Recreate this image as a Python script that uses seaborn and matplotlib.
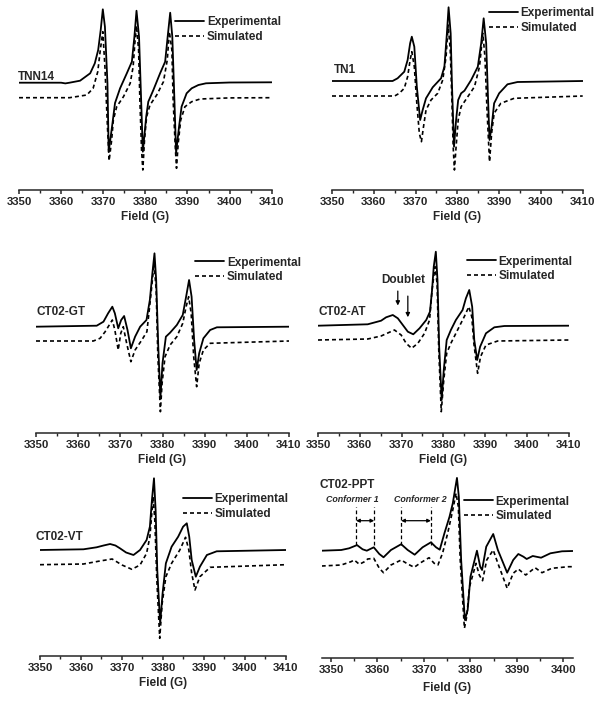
import matplotlib
matplotlib.use("Agg")
import matplotlib.pyplot as plt
from matplotlib.ticker import MultipleLocator
import pandas as pd
import seaborn as sns

# ---- data (field in G, intensity in arbitrary units) ----
tnn14_exp_field = [3350, 3360, 3361, 3362, 3364.5, 3366.9, 3368.0, 3368.8, 3369.4, 3369.9,
                   3370.4, 3371.0, 3371.3, 3372.2, 3372.8, 3374.0, 3375.6, 3376.8, 3377.4, 3377.9,
                   3378.5, 3379.0, 3379.4, 3380.2, 3380.7, 3381.9, 3383.5, 3384.7, 3385.3, 3385.9,
                   3386.4, 3386.9, 3387.3, 3388.0, 3388.6, 3389.8, 3391.0, 3392.6, 3394.4, 3400, 3410]
tnn14_exp = [0, 0, -0.7, 0, 2, 9.4, 19.4, 32.7, 52.7, 73.4,
             56, -0.6, -69, -40.3, -20.3, -5.6, 9.4, 21, 46, 72,
             46, -17.3, -69, -34, -19, -7.3, 9.4, 21, 46, 70,
             46, -17.3, -70.3, -44, -24, -10.6, -5.6, -2.3, -0.6, 0.2, 0.4]
tnn14_sim_field = [3350, 3362, 3366.1, 3367.6, 3368.7, 3369.3, 3369.9, 3370.4, 3371.0, 3371.4,
                   3372.0, 3372.4, 3373.2, 3374.8, 3376.4, 3377.1, 3377.5, 3377.9, 3378.4, 3378.7,
                   3379.1, 3379.4, 3379.8, 3380.3, 3381.1, 3382.7, 3384.3, 3385.2, 3385.7, 3386.3,
                   3386.6, 3387.1, 3387.4, 3387.8, 3388.4, 3389.4, 3391.0, 3393.0, 3400, 3410]
tnn14_sim = [-15, -15, -12.3, -5.6, 11, 32.7, 51, 16, -44, -78,
             -57.3, -37.3, -24, -14, -0.6, 16, 39.4, 57, 32.7, -17.3,
             -67.3, -87.3, -57.3, -34, -22.3, -12.3, 1, 22.7, 51, 32.7,
             -17.3, -64, -85.6, -60.6, -37.3, -24, -19, -16.3, -15.2, -15]

tn1_exp_field = [3350, 3364.5, 3365.7, 3367.3, 3368.1, 3368.7, 3369.1, 3369.7, 3370.3, 3371.1,
                 3371.7, 3372.5, 3374.1, 3376.1, 3376.9, 3377.5, 3377.9, 3378.4, 3378.7, 3379.2,
                 3379.7, 3380.2, 3380.9, 3381.7, 3383.3, 3384.9, 3385.7, 3386.3, 3386.9, 3387.3,
                 3387.7, 3388.2, 3388.8, 3390.0, 3392.0, 3394.4, 3410]
tn1_exp = [0, 0, 2.7, 9.3, 21, 37.7, 44.3, 34.3, -5.7, -39,
           -29, -17.3, -6.3, 2.7, 14.3, 47.7, 73.7, 47.7, -2.3, -65.7,
           -39, -19, -12.3, -9.7, 1, 14.3, 37.7, 62.7, 37.7, -12.3,
           -59, -45.7, -22.3, -12.3, -3.3, -1, 0]
tn1_sim_field = [3350, 3365, 3366.1, 3367.3, 3368.1, 3368.7, 3369.1, 3369.7, 3370.3, 3370.9,
                 3371.4, 3371.9, 3372.5, 3373.7, 3375.3, 3376.5, 3377.3, 3377.8, 3378.3, 3378.7,
                 3379.0, 3379.3, 3379.7, 3380.2, 3380.9, 3382.5, 3384.1, 3385.3, 3386.1, 3386.6,
                 3387.1, 3387.7, 3388.2, 3388.8, 3390.4, 3393.6, 3410]
tn1_sim = [-15, -15, -12.3, -7.3, 4.3, 21, 29.3, 14.3, -22.3, -52.3,
           -60.7, -45.7, -29, -19, -12.3, 1, 24.3, 56, 31, -19,
           -65.7, -89, -65.7, -39, -25.7, -15.7, -5.7, 14.3, 47.7, 24.3,
           -29, -80.7, -52.3, -32.3, -22.3, -17.3, -15]

gt_exp_field = [3350, 3364.4, 3366.0, 3367.1, 3368.1, 3368.7, 3369.5, 3370.2, 3370.9, 3371.7,
                3372.5, 3373.5, 3374.7, 3376.2, 3377.0, 3377.6, 3378.1, 3378.5, 3379.0, 3379.5,
                3380.0, 3380.8, 3381.8, 3383.4, 3384.8, 3385.6, 3386.3, 3386.9, 3387.5, 3388.1,
                3388.7, 3389.7, 3391.3, 3392.9, 3410]
gt_exp = [0, 1, 5, 13.4, 20, 13.4, -1.6, 6.7, 10.7, -3.3,
          -21.6, -10, 0, 6.7, 26.7, 53.4, 73.4, 46.7, -20, -71.6,
          -36.6, -10, -6, 1.7, 11.7, 30, 46.7, 30, -13.3, -43.3,
          -26.6, -11.6, -3.3, -0.6, 0]
gt_sim_field = [3350, 3363.6, 3365.2, 3366.4, 3368.1, 3368.7, 3369.5, 3370.1, 3370.7, 3371.5,
                3372.5, 3373.5, 3375.1, 3376.3, 3377.2, 3378.0, 3378.5, 3378.9, 3379.5, 3379.9,
                3380.6, 3381.8, 3383.4, 3384.8, 3385.6, 3386.2, 3386.8, 3387.4, 3388.1, 3388.7,
                3389.7, 3391.3, 3410]
gt_sim = [-14.3, -14.3, -11.6, -5, 6.7, -3.3, -23.3, -6.6, 0, -16.6,
          -35, -23.3, -13.3, -5, 30, 63.4, 36.7, -30, -85, -56.6,
          -30, -18.3, -10, 3.4, 20, 30, 13.4, -30, -60, -36.6,
          -23.3, -16.6, -14.3]

at_exp_field = [3350, 3361.9, 3365.1, 3366.3, 3367.9, 3369.1, 3370.3, 3371.5, 3372.8, 3374.3,
                3375.9, 3376.8, 3377.3, 3377.7, 3378.2, 3378.6, 3379.0, 3379.6, 3380.1, 3380.8,
                3381.8, 3383.0, 3384.6, 3385.4, 3386.2, 3386.9, 3387.4, 3388.1, 3388.8, 3390.2,
                3392.2, 3394.6, 3410]
at_exp = [0, 1.4, 5, 8.4, 10.7, 7.4, 0.7, -6, -8.6, -2.6,
          5.7, 14, 35.7, 59, 74, 45.7, -21, -74.3, -44.3, -14.3,
          -4.3, 5.7, 15.7, 27.4, 35.7, 19, -14.3, -34.3, -21, -7.6,
          -1.6, -0.3, 0]
at_sim_field = [3350, 3361.9, 3365.1, 3368.3, 3369.9, 3371.1, 3372.4, 3373.9, 3375.5, 3376.7,
                3377.3, 3378.0, 3378.5, 3378.9, 3379.5, 3380.1, 3380.8, 3381.8, 3383.4, 3385.0,
                3386.1, 3386.8, 3387.3, 3388.2, 3388.9, 3390.2, 3393.0, 3410]
at_sim = [-14.3, -13.3, -10.3, -4.3, -9.3, -17.6, -22.6, -17.6, -7.6, 5.7,
          35.7, 59, 42.4, -24.3, -86, -54.3, -27.6, -17.6, -4.3, 9,
          19, 9, -17.6, -47.6, -31, -19.3, -15.3, -14.3]

vt_exp_field = [3350, 3360.6, 3363.8, 3365.5, 3367.1, 3368.4, 3369.5, 3371.0, 3372.8, 3374.4,
                3376.0, 3376.8, 3377.3, 3377.8, 3378.2, 3378.6, 3379.3, 3379.9, 3380.7, 3382.1,
                3383.7, 3384.9, 3385.8, 3386.4, 3387.0, 3388.0, 3389.0, 3390.7, 3393.1, 3410]
vt_exp = [0, 0.7, 2.7, 4.5, 6, 4.5, 1.7, -2.5, -5, 0,
          10, 23.3, 50, 71.7, 40, -20, -73.3, -43.3, -13.3, 3.3,
          13.3, 23.3, 26.7, 13.3, -10, -26.7, -16.7, -5, -1.3, 0]
vt_sim_field = [3350, 3360.6, 3364.6, 3367.6, 3370.0, 3372.4, 3374.4, 3376.0, 3376.8, 3377.6,
                3378.0, 3378.5, 3379.2, 3379.8, 3380.7, 3382.1, 3384.1, 3385.5, 3386.3, 3387.0,
                3387.8, 3389.0, 3391.5, 3410]
vt_sim = [-14.7, -14, -11, -9, -15, -19.3, -15, -3.3, 13.3, 53.3,
          30, -30, -88.3, -53.3, -26.7, -13.3, 0, 12.7, 0, -23.3,
          -40, -26.7, -17.3, -14.7]

ppt_exp_field = [3348.0, 3352.2, 3353.9, 3355.6, 3356.8, 3357.7, 3359.2, 3360.4, 3361.3, 3362.9,
                 3365.1, 3366.5, 3368.0, 3369.7, 3371.5, 3372.6, 3373.4, 3374.4, 3375.5, 3376.2,
                 3377.1, 3377.5, 3378.0, 3378.8, 3379.4, 3380.0, 3381.4, 3382.1, 3382.5, 3383.4,
                 3384.9, 3385.9, 3387.9, 3389.2, 3390.3, 3391.4, 3392.1, 3393.4, 3395.2, 3397.2,
                 3399.7, 3402.0]
ppt_exp = [0, 0.7, 2.4, 5.6, 1.4, 0, 3.4, -3.3, -6.6, 0.7,
           6.5, 0.7, -4, 3.4, 8.4, 3.4, 1, 17.4, 34, 47.4,
           72.8, 54, -9.3, -69.3, -59.3, -26, 0, -16, -19.3, 4,
           16.7, 0.7, -22, -9.3, -3.3, -6, -8.3, -5.3, -7, -2.6,
           -0.6, -0.3]
ppt_sim_field = [3348.0, 3352.2, 3354.3, 3355.0, 3356.1, 3357.2, 3357.9, 3359.2, 3360.4, 3361.3,
                 3362.9, 3365.1, 3366.5, 3367.9, 3369.3, 3371.1, 3372.2, 3373.0, 3374.0, 3375.1,
                 3376.2, 3376.9, 3377.4, 3377.8, 3378.7, 3379.2, 3379.8, 3381.2, 3381.9, 3382.6,
                 3383.5, 3384.9, 3385.9, 3387.9, 3389.2, 3390.3, 3391.4, 3391.9, 3393.9, 3395.4,
                 3397.5, 3401.1, 3402.0]
ppt_sim = [-15.3, -14.3, -11, -9.3, -13.6, -11, -8.3, -7.6, -17.6, -22,
           -14.3, -9.3, -13.3, -16.6, -12, -7, -12.6, -14.3, -2.6, 17.4,
           40.7, 57.4, 44, -9.3, -77.6, -66, -36, -12.6, -24.3, -30,
           -9.3, 0.7, -12.6, -37.6, -22.6, -18.3, -22.6, -24.3, -17, -22,
           -17.6, -16, -16]

sample_names = ["TNN14", "TN1", "CT02-GT", "CT02-AT", "CT02-VT", "CT02-PPT"]
series_labels = ["Experimental", "Simulated"]
doublet_fields = [3369.1, 3371.5]
conformer_labels = ["Conformer 1", "Conformer 2"]
conformer_label_fields = [3354.5, 3369.2]
conformer1_fields = [3355.4, 3359.3]
conformer2_fields = [3365.1, 3371.5]

W, H = 602, 703
sns.set_theme(style="ticks")
plt.rcParams["font.family"] = ["Liberation Sans", "DejaVu Sans"]
plt.rcParams["font.weight"] = "bold"

fig = plt.figure(figsize=(W / 100, H / 100), dpi=100)

# panel geometry in pixels: left, right, spine y, top y; baseline y of the experimental trace
panels = [
    dict(name=sample_names[0], ef=tnn14_exp_field, e=tnn14_exp, sf=tnn14_sim_field, s=tnn14_sim,
         box=(19, 271.7, 190, 0), base=82.7, xlim=(3350, 3410), lab=(3349.8, 6), leg=(175, 16.2), lp=3.0),
    dict(name=sample_names[1], ef=tn1_exp_field, e=tn1_exp, sf=tn1_sim_field, s=tn1_sim,
         box=(332, 582.7, 190, 0), base=81, xlim=(3350, 3410), lab=(3350.5, 11), leg=(488.7, 6.8), lp=3.0),
    dict(name=sample_names[2], ef=gt_exp_field, e=gt_exp, sf=gt_sim_field, s=gt_sim,
         box=(36, 289, 433.3, 240), base=326.7, xlim=(3350, 3410), lab=(3350.2, 15), leg=(195, 256.5), lp=3.0),
    dict(name=sample_names[3], ef=at_exp_field, e=at_exp, sf=at_sim_field, s=at_sim,
         box=(318, 568.7, 433, 240), base=325.7, xlim=(3350, 3410), lab=(3350.1, 14), leg=(466.7, 255.5), lp=3.0),
    dict(name=sample_names[4], ef=vt_exp_field, e=vt_exp, sf=vt_sim_field, s=vt_sim,
         box=(40, 286, 655.7, 470), base=550, xlim=(3350, 3410), lab=(3349, 12.7), leg=(182.7, 492.8), lp=3.0),
    dict(name=sample_names[5], ef=ppt_exp_field, e=ppt_exp, sf=ppt_sim_field, s=ppt_sim,
         box=(321.7, 572.7, 658, 470), base=550.7, xlim=(3348, 3402), lab=(3347.6, 65.7), leg=(463.7, 495.5), lp=5.0),
]

axes = []
for p in panels:
    x0, x1, yb, yt = p["box"]
    ax = fig.add_axes([x0 / W, 1 - yb / H, (x1 - x0) / W, (yb - yt) / H])
    ax.patch.set_alpha(0)
    exp_df = pd.DataFrame({"field": p["ef"], "signal": p["e"]})
    sim_df = pd.DataFrame({"field": p["sf"], "signal": p["s"]})
    sns.lineplot(data=exp_df, x="field", y="signal", ax=ax, color="black", lw=1.3,
                 sort=False, estimator=None, label=series_labels[0])
    sns.lineplot(data=sim_df, x="field", y="signal", ax=ax, color="black", lw=1.2,
                 sort=False, estimator=None, label=series_labels[1])
    ax.lines[1].set_linestyle((0, (2.4, 1.8)))
    ax.set_xlim(*p["xlim"])
    ax.set_ylim(p["base"] - yb, p["base"] - yt)
    for side in ["left", "right", "top"]:
        ax.spines[side].set_visible(False)
    ax.spines["bottom"].set_linewidth(1.1)
    ax.set_yticks([])
    ax.set_ylabel("")
    ax.xaxis.set_major_locator(MultipleLocator(10))
    ax.xaxis.set_minor_locator(MultipleLocator(5))
    ax.tick_params(axis="x", which="major", direction="out", length=3, width=1.1,
                   pad=2.0, labelsize=8.2)
    ax.tick_params(axis="x", which="minor", direction="out", length=1.8, width=1.0)
    ax.set_xlabel("Field (G)", fontsize=8.5, fontweight="bold", labelpad=p["lp"])
    ax.text(p["lab"][0], p["lab"][1], p["name"], fontsize=8.5, fontweight="bold",
            ha="left", va="center")
    lx, ly = p["leg"]
    ax.legend(loc="upper left", bbox_to_anchor=(lx / W, 1 - ly / H),
              bbox_transform=fig.transFigure, frameon=False,
              handlelength=2.45, handletextpad=0.25, labelspacing=0.25,
              borderpad=0, borderaxespad=0, prop={"weight": "bold", "size": 8.5})
    axes.append(ax)

for ax in axes:
    for t in ax.get_xticklabels():
        t.set_fontweight("bold")

# Doublet arrows on CT02-AT
ax = axes[3]
ax.text(3370.5, 45.7, "Doublet", fontsize=8.5, fontweight="bold", ha="center", va="center")
ax.annotate("", xy=(doublet_fields[0], 17.4), xytext=(doublet_fields[0], 37.4),
            arrowprops=dict(arrowstyle="-|>", color="black", lw=0.9, mutation_scale=6))
ax.annotate("", xy=(doublet_fields[1], 5.7), xytext=(doublet_fields[1], 32.4),
            arrowprops=dict(arrowstyle="-|>", color="black", lw=0.9, mutation_scale=6))

# Conformer markers on CT02-PPT
ax = axes[5]
for fields, name, cx in zip([conformer1_fields, conformer2_fields], conformer_labels,
                            conformer_label_fields):
    ax.text(cx, 51.7, name, fontsize=6.4, fontweight="bold", style="italic",
            ha="center", va="center")
    for f in fields:
        ax.plot([f, f], [5.7, 43.4], color="black", lw=0.9, ls=(0, (3, 2)))
    ax.annotate("", xy=(fields[0], 30), xytext=(fields[1], 30),
                arrowprops=dict(arrowstyle="<|-|>", color="black", lw=0.9, mutation_scale=5,
                                shrinkA=0, shrinkB=0))

fig.savefig("out.png", dpi=100)
